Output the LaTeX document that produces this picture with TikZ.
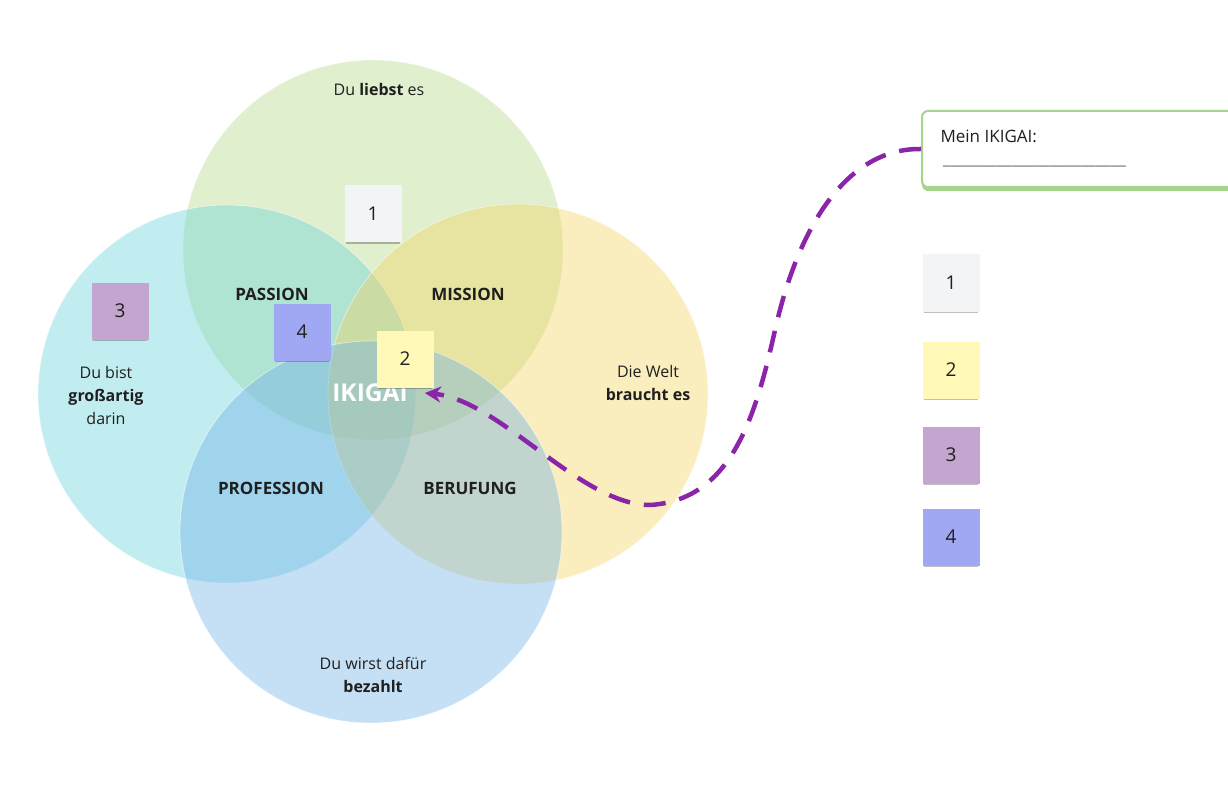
\documentclass[tikz,border=0pt]{standalone}
\usepackage{fontspec}
\setmainfont{Open Sans}
\usepackage{tikz}
\usetikzlibrary{arrows.meta,shadows}
\definecolor{kreisgruen}{RGB}{178,215,130}
\definecolor{kreistuerkis}{RGB}{103,210,218}
\definecolor{kreisgelb}{RGB}{243,210,93}
\definecolor{kreisblau}{RGB}{110,175,230}
\definecolor{schrift}{HTML}{1F1F1F}
\definecolor{linie}{HTML}{6E6E6E}
\definecolor{lila}{HTML}{8A24A8}
\definecolor{rahmen}{HTML}{A5D58C}
\definecolor{zettelweiss}{HTML}{F3F4F6}
\definecolor{zettelgelb}{HTML}{FFF8B6}
\definecolor{zettellila}{HTML}{C3A5CF}
\definecolor{zettelblau}{HTML}{A0A8F4}
\tikzset{
  every picture/.style={line join=round, >=Stealth},
  kreis/.style={fill=#1, fill opacity=0.4, draw=white, draw opacity=0.5, line width=0.8pt},
  feld/.style={font=\fontsize{17}{20}\selectfont\bfseries, text=schrift},
  hinweis/.style={font=\fontsize{16}{23}\selectfont, text=schrift, align=center},
  zettel/.style={fill=#1, minimum size=57pt, inner sep=0pt, font=\fontsize{19}{21}\selectfont, text=schrift,
    drop shadow={shadow xshift=0pt, shadow yshift=-3pt, shadow scale=0.96, opacity=0.25, fill=black}},
  zielbox/.style={draw=rahmen, line width=2pt, fill=white, rounded corners=6pt, minimum width=330pt, minimum height=76pt,
    drop shadow={shadow xshift=0pt, shadow yshift=-4pt, opacity=1, fill=rahmen}},
  verbindung/.style={draw=lila, line width=4.5pt, dash pattern=on 22pt off 14pt, -{Stealth[length=16pt,width=16pt]}},
}

\begin{document}
\begin{tikzpicture}[x=1pt,y=-1pt]
\useasboundingbox (0,0) rectangle (1228,810);
\fill[white] (0,0) rectangle (1228,810);
\path[kreis=kreisgruen] (373,250) circle[radius=190];
\path[kreis=kreistuerkis] (227,394) circle[radius=189];
\path[kreis=kreisgelb] (518,394) circle[radius=190];
\path[kreis=kreisblau] (371,532) circle[radius=191];
\node[hinweis] (liebe) at (379,90) {Du \textbf{liebst} es};
\node[hinweis] (talent) at (106,395) {Du bist\\\textbf{großartig}\\darin};
\node[hinweis] (welt) at (648,383) {Die Welt\\\textbf{braucht es}};
\node[hinweis] (geld) at (373,675) {Du wirst dafür\\\textbf{bezahlt}};
\node[feld] (passion) at (272,294) {PASSION};
\node[feld] (mission) at (468,294) {MISSION};
\node[feld] (profession) at (271,488) {PROFESSION};
\node[feld] (berufung) at (470,488) {BERUFUNG};
\node[font=\fontsize{24.5}{28}\selectfont\bfseries, text=white, inner xsep=17pt] (ikigai) at (370,393) {IKIGAI};
\node[zettel=zettelweiss] (z1) at (373,214) {1};
\node[zettel=zettellila] (z3) at (120,311) {3};
\node[zettel=zettelblau] (z4) at (302,332) {4};
\node[zettel=zettelgelb] (z2) at (405,359) {2};
\node[zettel=zettelweiss] (r1) at (951,283) {1};
\node[zettel=zettelgelb] (r2) at (951,370) {2};
\node[zettel=zettellila] (r3) at (951,455) {3};
\node[zettel=zettelblau] (r4) at (951,537) {4};
\node[zielbox, anchor=north west] (ziel) at (921,110) {};
\node[anchor=west, font=\fontsize{17}{20}\selectfont, text=schrift] (zielname) at (937,136) {Mein IKIGAI:};
\node[anchor=base west, inner sep=0pt, font=\fontsize{17}{20}\selectfont, text=linie] (zielzeile) at (943,165) {\_\_\_\_\_\_\_\_\_\_\_\_\_\_\_\_\_\_\_\_\_\_\_\_};
\draw[verbindung] (ziel.west) .. controls (850,148) and (800,220) .. (775,330) .. controls (755,420) and (730,500) .. (650,505) .. controls (580,505) and (500,400) .. (ikigai.east);
\end{tikzpicture}
\end{document}
